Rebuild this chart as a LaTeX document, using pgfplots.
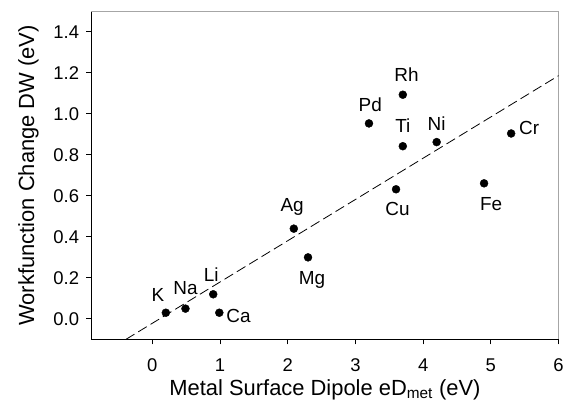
\documentclass[border=0pt]{standalone}
\usepackage{fontspec}
\setmainfont{Liberation Sans}
\usepackage{pgfplots}
\usepackage{pgfplotstable}
\pgfplotsset{compat=1.18}

% metal, dipole (eV), workfunction change (eV), label offset in pt
\pgfplotstableread{
x    y     name dx   dy
0.20 0.030 K    -8   11.3
0.49 0.050 Na   0    14.3
0.90 0.120 Li   -2   13.3
0.99 0.030 Ca   19.3 -9.7
2.09 0.440 Ag   -1.7 17.6
2.30 0.300 Mg   4    -27.7
3.20 0.953 Pd   1.3  12
3.70 1.093 Rh   3.7  13
3.70 0.842 Ti   0    13.7
4.20 0.862 Ni   0    11.3
5.30 0.904 Cr   18   -0.7
3.60 0.632 Cu   1.5  -26
4.90 0.661 Fe   7    -27
}\metals

\begin{document}
\begin{tikzpicture}
\begin{axis}[
    scale only axis,
    width=469pt,
    height=329.4pt,
    xmin=-0.9, xmax=6,
    ymin=-0.1, ymax=1.5,
    axis x line*=bottom,
    axis y line*=left,
    axis line style={black, line width=1.1pt},
    xtick={0,1,2,3,4,5,6},
    ytick={0,0.2,0.4,0.6,0.8,1.0,1.2,1.4},
    tick align=outside,
    major tick length=5pt,
    tick style={black, line width=0.8pt},
    /pgf/number format/assume math mode=true,
    tick label style={font=\fontsize{18.5}{20}\selectfont},
    yticklabel style={xshift=-3.8pt, /pgf/number format/.cd, fixed, fixed zerofill, precision=1},
    xticklabel style={yshift=-11pt},
    label style={font=\fontsize{22}{24}\selectfont},
    xlabel={Metal Surface Dipole eD\textsubscript{met} (eV)},
    ylabel={Workfunction Change DW (eV)},
    xlabel style={yshift=-1pt},
    ylabel style={yshift=8pt},
    clip=false,
]
\draw[gray!70, line width=1pt] (rel axis cs:0,1) -- (rel axis cs:1,1) -- (rel axis cs:1,0);
\addplot[black, line width=0.8pt, dash pattern=on 10pt off 4.5pt] coordinates {(-0.39,-0.1) (6,1.186)};
\addplot[only marks, mark=*, mark size=4pt, black,
    nodes near coords, point meta=explicit symbolic,
    visualization depends on={\thisrow{dx}\as\dx},
    visualization depends on={\thisrow{dy}\as\dy},
    every node near coord/.append style={anchor=base, inner sep=0pt,
        xshift=\dx pt, yshift=\dy pt, font=\fontsize{19}{21}\selectfont}]
    table[x=x, y=y, meta=name] {\metals};
\end{axis}
\path (current axis.south west) ++(-91.7pt,-62.3pt) rectangle ++(567pt,403pt);
\end{tikzpicture}
\end{document}
